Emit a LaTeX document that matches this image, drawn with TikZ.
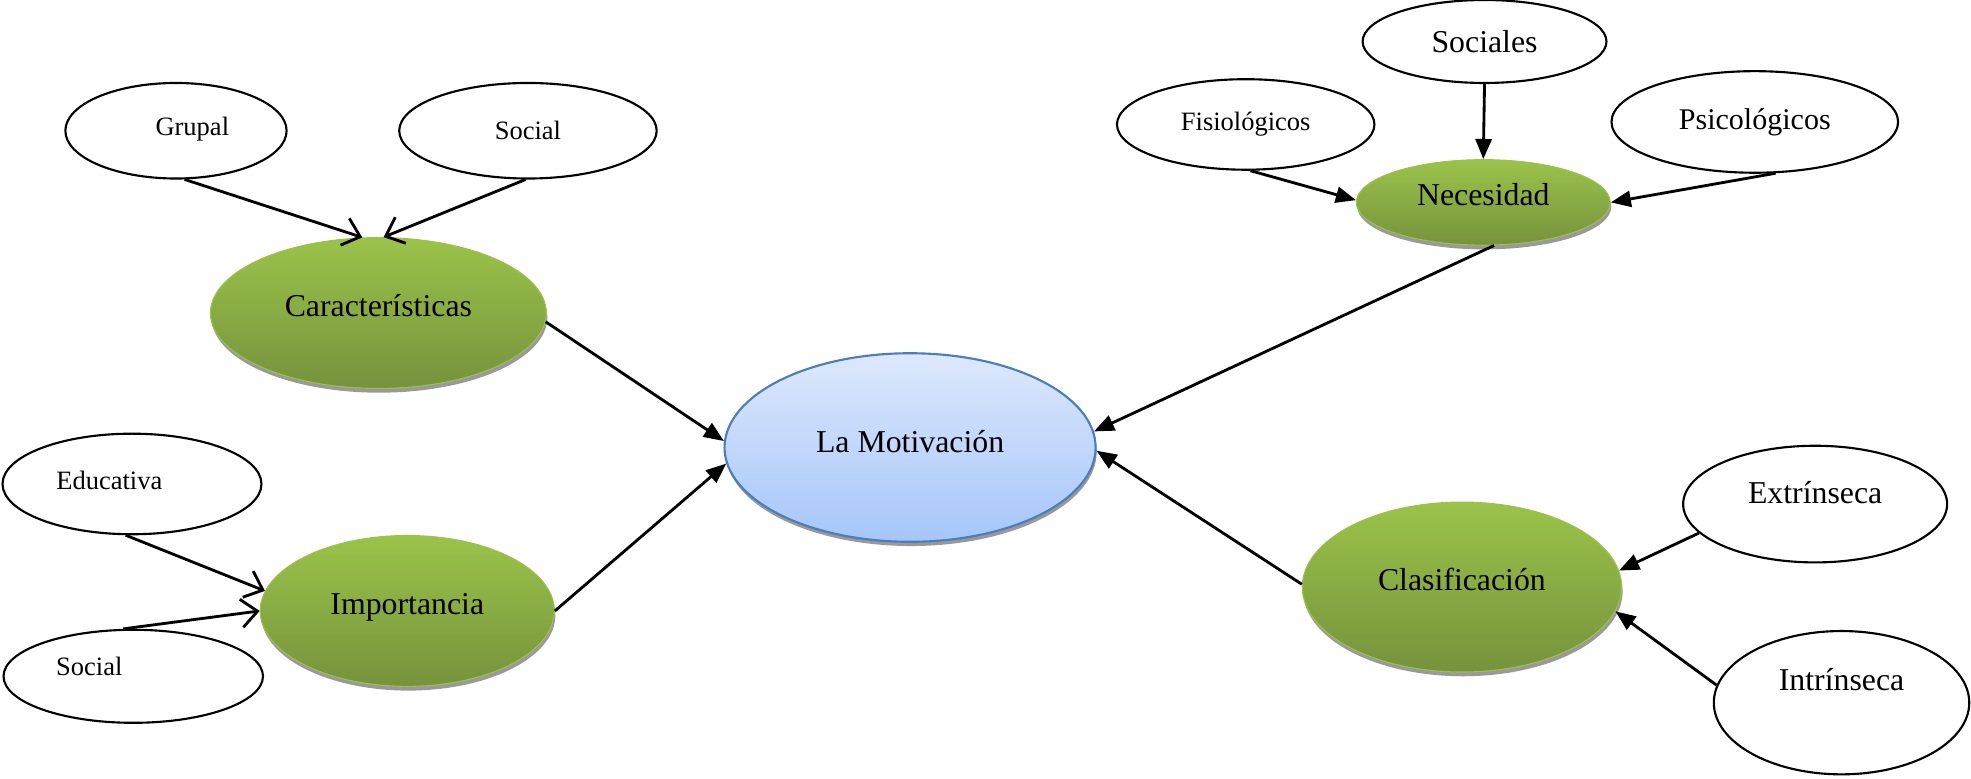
\documentclass[tikz,border=0pt]{standalone}
\usepackage{fontspec}
\setmainfont{Liberation Serif}
\usepackage{tikz}
\usetikzlibrary{calc}
\usetikzlibrary{shapes.geometric}
\usetikzlibrary{shadows}
\usetikzlibrary{arrows.meta}
\definecolor{leafTop}{HTML}{9BC34A}
\definecolor{leafBot}{HTML}{76923C}
\definecolor{skyTop}{HTML}{DDE8FD}
\definecolor{skyBot}{HTML}{A6C6FA}
\definecolor{skyRim}{HTML}{4A7EBB}
\tikzset{bubble/.style={draw, shape=ellipse, fill=white, line width=0.6pt, inner sep=0pt, font=\fontsize{7.5}{9}\selectfont}}
\tikzset{tag/.style={inner sep=0pt, font=\fontsize{7.5}{9}\selectfont}}
\tikzset{leaf/.style={shape=ellipse, top color=leafTop, bottom color=leafBot, draw=leafTop, line width=0.3pt, inner sep=0pt, text height=6pt, text depth=4pt, font=\fontsize{9}{11}\selectfont, drop shadow={shadow xshift=0.3pt, shadow yshift=-1.2pt, fill=black!40, opacity=1}}}
\tikzset{hub/.style={shape=ellipse, top color=skyTop, bottom color=skyBot, draw=skyRim, line width=0.6pt, inner sep=0pt, text height=6pt, text depth=3pt, font=\fontsize{9}{11}\selectfont, drop shadow={shadow xshift=0.3pt, shadow yshift=-1.2pt, fill=black!40, opacity=1}}}
\tikzset{feed/.style={-{Triangle[length=2mm, width=1.6mm]}}}
\tikzset{hook/.style={-{Straight Barb[length=1.6mm, width=2.8mm]}}}

\begin{document}
\begin{tikzpicture}[x=0.125mm, y=-0.125mm, thick]
    \useasboundingbox (0,0) rectangle (1568,619);

    \node[hub, minimum width=36.9mm, minimum height=18.75mm] (motiv) at (724,356) {La Motivación};

    \node[leaf, minimum width=33.4mm, minimum height=15mm] (caract) at (301,249) {Características};
    \node[leaf, minimum width=29.25mm, minimum height=15mm] (import) at (324,486) {Importancia};
    \node[leaf, minimum width=25.25mm, minimum height=8.5mm] (neces) at (1180,161) {Necesidad};
    \node[leaf, minimum width=31.75mm, minimum height=16.9mm] (clasif) at (1163,467) {Clasificación};

    \node[bubble, minimum width=22mm, minimum height=9.5mm, label={[tag, shift={(13,-1)}]center:Grupal}] (grupal) at (140,104) {};
    \node[bubble, minimum width=25.6mm, minimum height=9.5mm] (socialA) at (420,104) {Social};
    \node[bubble, minimum width=25.75mm, minimum height=10mm, label={[tag, shift={(-18,-3)}]center:Educativa}] (educ) at (105,385) {};
    \node[bubble, minimum width=25.8mm, minimum height=9.25mm, label={[tag, shift={(-35,-8)}]center:Social}] (socialB) at (106,538) {};

    \node[bubble, minimum width=25.6mm, minimum height=9mm] (fisio) at (991,99) {Fisiológicos};
    \node[bubble, minimum width=24.25mm, minimum height=8.25mm, font=\fontsize{9}{11}\selectfont] (socs) at (1181,33) {Sociales};
    \node[bubble, minimum width=28.5mm, minimum height=10.1mm, font=\fontsize{8.5}{10}\selectfont] (psico) at (1396,97) {Psicológicos};
    \node[bubble, minimum width=26.25mm, minimum height=11.6mm, label={[tag, font=\fontsize{9}{11}\selectfont, shift={(0,-9)}]center:Extrínseca}] (extr) at (1444,401) {};
    \node[bubble, minimum width=25.4mm, minimum height=14.25mm, label={[tag, font=\fontsize{9}{11}\selectfont, shift={(0,-18)}]center:Intrínseca}] (intr) at (1465,559) {};

    \draw[hook] (grupal.-80) -- (caract.102);
    \draw[hook] (socialA.-93) -- (caract.86);
    \draw[hook] (educ.-97) -- (import.172);
    \draw[hook] (socialB.102) -- (import.180);
    \draw[feed] (caract.-3) -- (motiv.178);
    \draw[feed] (import.east) -- (motiv.185);

    \draw[feed] (fisio.-84) -- (neces.179);
    \draw[feed] (socs.south) -- (neces.north);
    \draw[feed] (psico.-68) -- (neces.east);
    \draw[feed] (neces.-76) -- (motiv.5);

    \draw[feed] (extr.194) -- (clasif.6);
    \draw[feed] (intr.172) -- (clasif.-9);
    \draw[feed] (clasif.179) -- (motiv.-1);
\end{tikzpicture}
\end{document}
